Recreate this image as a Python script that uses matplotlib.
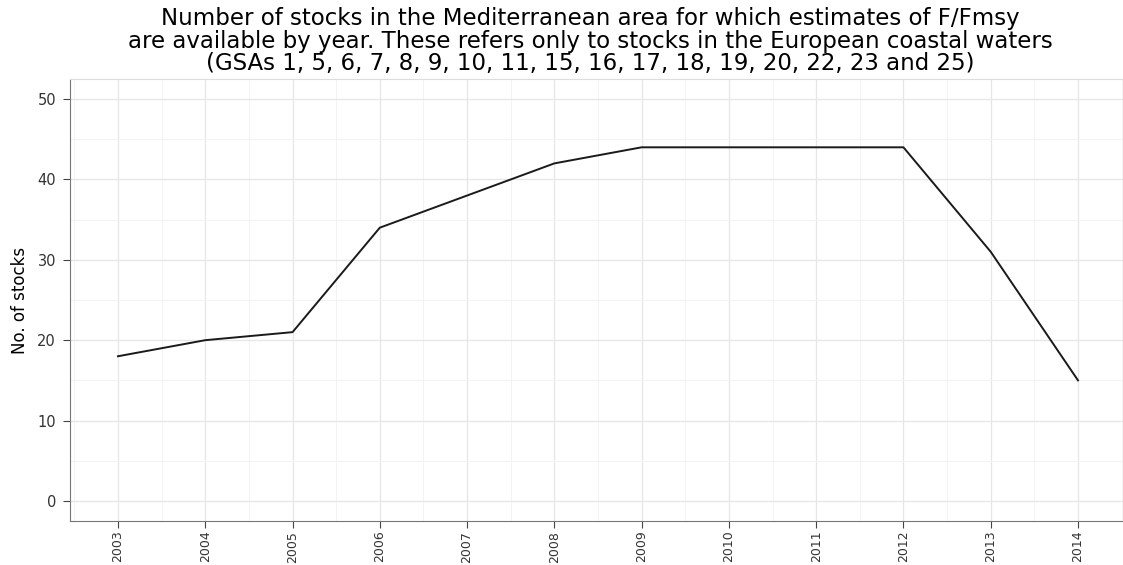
import matplotlib.pyplot as plt
from matplotlib.ticker import MultipleLocator

plt.rcParams['font.family'] = ['DejaVu Sans']

years = [2003, 2004, 2005, 2006, 2007, 2008, 2009, 2010, 2011, 2012, 2013, 2014]
n_stocks = [18, 20, 21, 34, 38, 42, 44, 44, 44, 44, 31, 15]
title = ("Number of stocks in the Mediterranean area for which estimates of F/Fmsy\n"
         "are available by year. These refers only to stocks in the European coastal waters\n"
         "(GSAs 1, 5, 6, 7, 8, 9, 10, 11, 15, 16, 17, 18, 19, 20, 22, 23 and 25)")

W, H = 1123, 565
fig = plt.figure(figsize=(W / 100, H / 100), dpi=100)
ax = fig.add_axes([70 / W, 1 - 521 / H, (1126 - 70) / W, (521 - 79) / H])

ax.plot(years, n_stocks, color='#1a1a1a', lw=1.4)

ax.set_xlim(2003 - 0.55, 2014 + 0.55)
ax.set_ylim(-2.5, 52.5)
ax.set_xticks(years)
ax.set_xticklabels([str(y) for y in years], rotation=90)
ax.xaxis.set_minor_locator(MultipleLocator(0.5))
ax.set_yticks([0, 10, 20, 30, 40, 50])
ax.yaxis.set_minor_locator(MultipleLocator(5))

ax.grid(which='major', color='#e6e6e6', lw=0.9)
ax.grid(which='minor', color='#f3f3f3', lw=0.7)
ax.set_axisbelow(True)

ax.spines['right'].set_visible(False)
ax.spines['top'].set_color('#dddddd')
ax.spines['left'].set_color('#777777')
ax.spines['bottom'].set_color('#777777')
ax.tick_params(which='major', length=5, color='#444444', labelcolor='#333333')
ax.tick_params(which='minor', length=0)
ax.tick_params(axis='x', labelsize=9, pad=2)
ax.tick_params(axis='y', labelsize=10.5, pad=5)

ax.set_ylabel('No. of stocks', fontsize=12, labelpad=6)
fig.text(590 / W, 1 - 7 / H, title, ha='center', va='top', fontsize=16.5, linespacing=0.98)

fig.savefig('out.png', dpi=100)
